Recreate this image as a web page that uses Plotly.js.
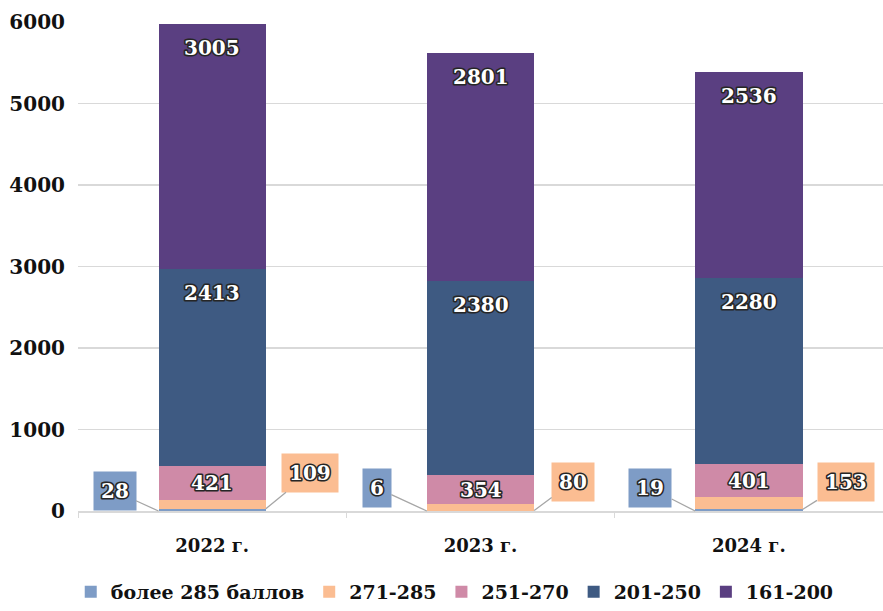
<!DOCTYPE html>
<html><head><meta charset="utf-8">
<script src="https://cdn.plot.ly/plotly-3.0.1.min.js"></script>
<style>html,body{margin:0;padding:0;background:#fff}#c{width:883px;height:611px}</style>
</head><body><div id="c"></div>
<script>
const categories = ['2022 г.', '2023 г.', '2024 г.'];
const seriesNames = ['более 285 баллов', '271-285', '251-270', '201-250', '161-200'];
const over285 = [28, 6, 19];
const s271_285 = [109, 80, 153];
const s251_270 = [421, 354, 401];
const s201_250 = [2413, 2380, 2280];
const s161_200 = [3005, 2801, 2536];
const yTicks = [0, 1000, 2000, 3000, 4000, 5000, 6000];

const colors = ['#7e9cc6', '#fbbd92', '#cf8aa7', '#3e5a82', '#5a3f81'];
const allSeries = [over285, s271_285, s251_270, s201_250, s161_200];

const traces = allSeries.map((vals, k) => ({
  type: 'bar', name: seriesNames[k], x: categories, y: vals,
  marker: {color: colors[k], line: {width: 0}},
  hoverinfo: 'skip'
}));

const lblFont = {family: 'DejaVu Serif', size: 20, weight: 700, color: '#ffffff'};
const outlineStyle = 'stroke:#262626;stroke-width:3.2px;paint-order:stroke;stroke-linejoin:round';
function ol(t) { return '<span style="' + outlineStyle + '">' + t + '</span>'; }

const annotations = [];
const leftOff = [[-44, -20], [-50, -23], [-45, -23]];
const rightOff = [[44, -36], [39, -29], [43, -27]];
categories.forEach((c, i) => {
  const b1 = over285[i];
  const b2 = b1 + s271_285[i];
  const b3 = b2 + s251_270[i];
  const b4 = b3 + s201_250[i];
  const b5 = b4 + s161_200[i];
  annotations.push({x: i, y: b3 - s251_270[i] / 2, xref: 'x', yref: 'y', showarrow: false,
    text: ol(s251_270[i]), font: lblFont});
  annotations.push({x: i, y: b4, xref: 'x', yref: 'y', yanchor: 'top', yshift: -10, showarrow: false,
    text: ol(s201_250[i]), font: lblFont});
  annotations.push({x: i, y: b5, xref: 'x', yref: 'y', yanchor: 'top', yshift: -10, showarrow: false,
    text: ol(s161_200[i]), font: lblFont});
  annotations.push({x: i - 0.2, y: 0, xref: 'x', yref: 'y', text: ol(over285[i]),
    showarrow: true, arrowhead: 0, arrowwidth: 1.3, arrowcolor: '#a6a6a6',
    ax: leftOff[i][0], ay: leftOff[i][1], bgcolor: colors[0], borderpad: 7, font: lblFont});
  annotations.push({x: i + 0.2, y: b1, xref: 'x', yref: 'y', text: ol(s271_285[i]),
    showarrow: true, arrowhead: 0, arrowwidth: 1.3, arrowcolor: '#a6a6a6',
    ax: rightOff[i][0], ay: rightOff[i][1], bgcolor: colors[1], borderpad: 7, font: lblFont});
});

const layout = {
  width: 883, height: 611,
  margin: {l: 78, r: 0, t: 22, b: 100, autoexpand: false},
  barmode: 'stack', bargap: 0.6,
  paper_bgcolor: '#ffffff', plot_bgcolor: '#ffffff',
  font: {family: 'DejaVu Serif', color: '#111111'},
  xaxis: {
    type: 'category', showgrid: false, showline: true, linecolor: '#d9d9d9', linewidth: 1.5,
    ticks: 'outside', tickson: 'boundaries', ticklen: 5, tickcolor: '#d9d9d9',
    tickfont: {family: 'DejaVu Serif', size: 18, weight: 700, color: '#111'},
    ticklabelstandoff: 18, zeroline: false, automargin: false
  },
  yaxis: {
    range: [0, 6000], tickvals: yTicks, ticktext: yTicks.map(String),
    showgrid: true, gridcolor: '#d9d9d9', gridwidth: 1.5, zeroline: false, showline: false,
    tickfont: {family: 'DejaVu Serif', size: 20, weight: 700, color: '#111'},
    ticklabelstandoff: 12, automargin: false
  },
  legend: {
    orientation: 'h', xref: 'container', yref: 'container',
    x: 0.515, xanchor: 'center', y: -0.008, yanchor: 'bottom',
    font: {family: 'DejaVu Serif', size: 19, weight: 700, color: '#111'},
    itemwidth: 30, traceorder: 'normal'
  },
  annotations: annotations,
  showlegend: true
};

Plotly.newPlot('c', traces, layout, {displayModeBar: false, staticPlot: true});
</script></body></html>
